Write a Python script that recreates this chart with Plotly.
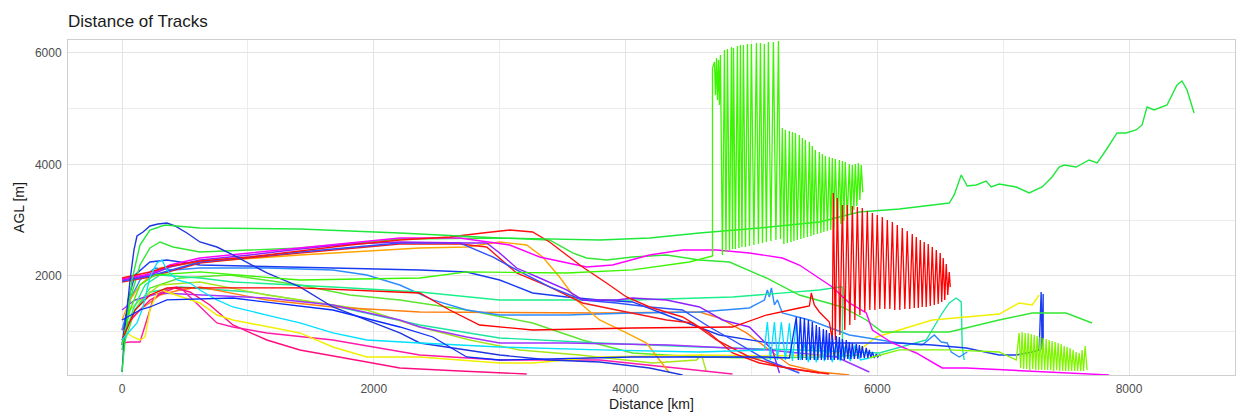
import plotly.graph_objects as go

FONT = "Liberation Sans, Arial, sans-serif"

# ---------------- data (distance km, AGL m) ----------------
green_long_km = [0, 32, 79, 143, 222, 341, 619, 1413, 2207, 3000, 3794, 4191, 4588, 5064, 5540, 5858, 6175, 6572, 6611, 6667, 6715, 6786, 6865, 6905, 6968, 7104, 7207, 7310, 7389, 7445, 7485, 7580, 7683, 7747, 7818, 7905, 7976, 8056, 8104, 8143, 8199, 8262, 8302, 8381, 8421, 8461, 8517]
green_long_m = [278, 1031, 1928, 2556, 2825, 2915, 2861, 2843, 2771, 2682, 2646, 2682, 2771, 2861, 2969, 3148, 3202, 3309, 3453, 3812, 3614, 3632, 3704, 3596, 3650, 3596, 3489, 3596, 3776, 3955, 3991, 3955, 4081, 4027, 4260, 4565, 4565, 4619, 4709, 5031, 4978, 5031, 5067, 5426, 5498, 5336, 4924]

blue_top_km = [0, 24, 64, 95, 119, 167, 222, 286, 357, 421, 516, 619, 754, 881, 1151, 1413, 1675, 1945, 2207, 2366, 2627, 3000, 3397, 3794, 4191, 4453]
blue_top_m = [278, 1031, 1928, 2466, 2717, 2789, 2897, 2933, 2951, 2897, 2771, 2610, 2520, 2377, 2054, 1803, 1444, 1211, 978, 798, 709, 583, 493, 457, 350, 224]

red_top_km = [0, 222, 381, 619, 1016, 1413, 1810, 2207, 2603, 2865, 3080, 3262, 3397, 3532, 3659, 3849, 4008, 4191, 4453, 4667, 4850, 5064, 5381, 5619]
red_top_m = [1964, 2072, 2179, 2269, 2341, 2448, 2556, 2646, 2700, 2771, 2825, 2789, 2610, 2377, 2161, 1874, 1623, 1444, 1265, 978, 619, 439, 314, 242]

magenta_km = [0, 222, 381, 619, 1016, 1413, 1810, 2207, 2683, 2897, 3080, 3318, 3532, 3691, 3897, 4191, 4453, 4723, 4984, 5246, 5381, 5540, 5643, 5778, 5913, 5961, 6120, 6310, 6516, 6707, 7231, 7762, 7842]
magenta_m = [1946, 2036, 2197, 2323, 2413, 2502, 2592, 2682, 2682, 2610, 2556, 2341, 2233, 2161, 2197, 2377, 2466, 2466, 2413, 2323, 2197, 1964, 1803, 1516, 1336, 1031, 798, 619, 350, 350, 296, 242, 224]

violet_km = [0, 222, 381, 619, 1016, 1413, 1810, 2207, 2738, 2897, 3000, 3135, 3318, 3532, 3659, 3929, 4056, 4326, 4588, 4770, 4984, 5167, 5223]
violet_m = [1928, 2018, 2161, 2287, 2377, 2484, 2574, 2610, 2592, 2592, 2413, 2143, 1964, 1749, 1570, 1570, 1605, 1570, 1444, 1211, 1085, 673, 260]

blue2_km = [0, 222, 619, 1413, 2207, 2683, 2945, 3135, 3397, 3659, 3929, 4191, 4453, 4667, 4850, 5119, 5381]
blue2_m = [1910, 2000, 2251, 2430, 2592, 2592, 2341, 2108, 1803, 1570, 1516, 1444, 1390, 1085, 852, 493, 260]

red2_km = [0, 222, 619, 1413, 2207, 2683, 2897, 3135, 3397, 3659, 3929, 4326, 4532, 4723, 4984, 5246, 5540]
red2_m = [1892, 1982, 2233, 2413, 2574, 2574, 2520, 2054, 1803, 1516, 1390, 1211, 1157, 852, 547, 368, 260]

orange_km = [0, 64, 143, 302, 619, 1413, 2366, 2738, 3000, 3215, 3342, 3476, 3611, 3794, 4008, 4167, 4270, 4350]
orange_m = [1211, 1570, 1839, 2143, 2251, 2377, 2502, 2520, 2610, 2556, 2341, 1982, 1570, 1211, 978, 798, 493, 260]

green2_km = [0, 64, 143, 222, 302, 405, 619, 1413, 2207, 3000, 3397, 3580, 3691, 3849, 4056, 4326, 4588, 4826, 5119, 5381, 5723, 5913, 6040, 6572, 6968, 7231, 7500, 7707]
green2_m = [673, 1570, 2197, 2502, 2610, 2520, 2430, 2502, 2664, 2682, 2646, 2413, 2323, 2287, 2341, 2377, 2287, 2251, 1964, 1659, 1444, 1211, 996, 996, 1211, 1336, 1336, 1157]

spring_km = [0, 87, 183, 302, 619, 881, 1675, 2366, 3000, 4056, 4850, 5540, 5699, 5723, 5723, 5738]
spring_m = [762, 1390, 1839, 2018, 1964, 1892, 1803, 1713, 1570, 1570, 1623, 1749, 1803, 1803, 852, 493]

azure_km = [0, 64, 143, 262, 405, 619, 1151, 1675, 1945, 2207, 2469, 2738, 3000, 3532, 4056, 4588, 4984, 5104, 5127, 5143, 5159, 5183, 5207, 5246, 5461, 5778, 6175, 6357, 6453, 6508, 6556, 6588, 6651, 6715]
azure_m = [1031, 1570, 1928, 2143, 2108, 2143, 2143, 2108, 2018, 1838, 1570, 1390, 1300, 1300, 1336, 1354, 1426, 1570, 1749, 1623, 1785, 1480, 1570, 1336, 1211, 942, 798, 762, 942, 816, 798, 637, 547, 637]

blue3_km = [0, 48, 103, 222, 357, 619, 1675, 2366, 2738, 3000, 3262, 3532, 3794, 4056, 4429, 4746, 5143, 5381, 5778, 6175, 6437, 6707, 6968, 7104, 7231, 7286, 7302, 7310, 7318, 7318]
blue3_m = [762, 1570, 2018, 2251, 2287, 2197, 2143, 2108, 2072, 1928, 1695, 1623, 1570, 1534, 1211, 942, 798, 798, 798, 798, 762, 709, 583, 583, 637, 673, 1713, 673, 1677, 852]

cyan_lead_km = [0, 119, 167, 222, 278, 317, 357, 437, 540, 619, 754, 881, 1151, 1413, 1675, 1945, 2366, 3000, 3794, 4588, 5103]
cyan_lead_m = [852, 1157, 1444, 1982, 2233, 2287, 2108, 1928, 1874, 1749, 1570, 1444, 1300, 1157, 978, 852, 798, 726, 673, 637, 673]
cyan_peak_km = [5127, 5183, 5238, 5302, 5357, 5421, 5484, 5548, 5611, 5675, 5747, 5826]
cyan_peak_m = [1175, 1175, 1175, 1157, 1175, 780, 762, 798, 762, 780, 744, 762]
cyan_trough_km = [5151, 5207, 5270, 5326, 5389, 5453, 5516, 5580, 5643, 5707, 5786, 5866]
cyan_trough_m = [493, 493, 493, 475, 493, 457, 457, 475, 457, 475, 475, 493]
cyan_tail_km = [5937]
cyan_tail_m = [529]

yellow_km = [0, 40, 87, 143, 183, 222, 278, 317, 357, 484, 619, 754, 881, 1413, 1675, 1945, 2366, 3000, 3262, 3794, 4588, 5064, 5540, 5858, 5993, 6175, 6437, 6707, 6968, 7127, 7231, 7286]
yellow_m = [942, 978, 906, 852, 906, 1390, 1695, 1749, 1713, 1623, 1516, 1300, 1211, 978, 726, 547, 547, 439, 439, 547, 583, 565, 583, 673, 906, 1031, 1211, 1265, 1318, 1516, 1480, 1659]

pink_km = [0, 64, 143, 198, 246, 302, 381, 437, 484, 540, 619, 754, 881, 1151, 1675, 2207, 2366, 3000, 3794, 4326, 4850]
pink_m = [798, 816, 816, 1211, 1570, 1695, 1785, 1803, 1749, 1623, 1444, 1157, 1085, 978, 852, 637, 583, 493, 493, 368, 242]

rose_km = [0, 103, 222, 341, 421, 540, 698, 881, 1151, 1413, 1945, 2207, 2683, 3215]
rose_m = [1031, 1300, 1570, 1713, 1785, 1713, 1480, 1121, 852, 673, 457, 350, 296, 242]

violet2_km = [0, 103, 302, 619, 1151, 1675, 2207, 2366, 2738, 3000, 3532, 4350, 5143, 5675, 5937]
violet2_m = [1390, 1570, 1695, 1659, 1605, 1480, 1211, 1085, 906, 798, 798, 762, 673, 547, 278]

blue4_lead_km = [0, 143, 222, 357, 881, 1675, 2207, 2469, 2738, 3000, 4056, 4723, 5119, 5302]
blue4_lead_m = [1211, 1390, 1444, 1570, 1605, 1390, 1085, 906, 547, 493, 547, 547, 547, 529]
blue4_peak_km = [5357, 5389, 5421, 5453, 5484, 5516, 5540, 5572, 5596, 5619, 5643, 5675, 5699, 5723, 5754, 5778, 5802, 5834, 5858, 5881, 5913, 5937, 5961, 5993, 6016]
blue4_peak_m = [1265, 1265, 1247, 1211, 1175, 1121, 1085, 1049, 1031, 978, 942, 924, 906, 870, 852, 816, 798, 780, 762, 744, 709, 673, 637, 601, 583]
blue4_trough_km = [5373, 5405, 5437, 5469, 5500, 5528, 5556, 5584, 5608, 5631, 5659, 5687, 5711, 5739, 5766, 5790, 5818, 5846, 5870, 5897, 5925, 5949, 5977, 6004, 6028]
blue4_trough_m = [493, 493, 493, 493, 493, 493, 493, 493, 493, 493, 493, 493, 493, 493, 511, 511, 511, 511, 529, 529, 529, 529, 529, 547, 565]

lime1_km = [0, 64, 143, 302, 619, 1151, 1945, 2366, 2762, 3159, 3635, 4215, 4564, 4604, 4643]
lime1_m = [1031, 1390, 1570, 1839, 1892, 1659, 1390, 1085, 852, 673, 583, 439, 493, 583, 278]

lime_lead_km = [5937, 6175, 6572, 6968, 7104]
lime_lead_m = [529, 673, 673, 637, 493]
lime_peak_km = [7127, 7151, 7175, 7199, 7223, 7247, 7270, 7294, 7318, 7342, 7366, 7389, 7413, 7437, 7461, 7485, 7508, 7532, 7556, 7580, 7604, 7627, 7651]
lime_peak_m = [978, 996, 978, 978, 960, 942, 924, 906, 888, 870, 852, 834, 816, 798, 780, 744, 726, 709, 673, 637, 619, 673, 744]
lime_trough_km = [7139, 7163, 7187, 7211, 7235, 7259, 7282, 7306, 7330, 7354, 7378, 7401, 7425, 7449, 7473, 7497, 7520, 7544, 7568, 7592, 7616, 7639, 7667]
lime_trough_m = [350, 332, 332, 314, 332, 314, 314, 314, 314, 314, 314, 296, 314, 296, 296, 296, 296, 296, 296, 296, 296, 296, 314]

teal_km = [0, 103, 222, 460, 1016, 1651, 2366, 3000, 3794, 4588, 5381, 6016, 6389, 6516, 6572, 6627, 6667, 6675, 6691]
teal_m = [852, 1390, 1713, 1803, 1713, 1480, 1121, 888, 798, 726, 673, 619, 852, 1336, 1516, 1605, 1534, 726, 493]

gz_lead_km = [0, 64, 143, 262, 619, 1413, 2366, 2738, 3532, 4056, 4508, 4691, 4691, 4707, 4715, 4723, 4731, 4739, 4746]
gz_lead_m = [762, 1390, 1839, 2018, 2072, 1928, 1964, 2072, 2054, 2108, 2251, 2359, 5731, 5839, 5247, 5910, 5157, 5875, 5067]
gz1_peak_km = [4754, 4786, 4810, 4842, 4858, 4889, 4913, 4937, 4969, 5000, 5040, 5072, 5103, 5135, 5175, 5215]
gz1_peak_m = [5965, 6054, 6072, 6108, 6090, 6126, 6144, 6144, 6162, 6162, 6180, 6180, 6162, 6198, 6198, 6216]
gz1_trough_km = [4770, 4798, 4826, 4850, 4873, 4901, 4925, 4953, 4985, 5020, 5056, 5088, 5119, 5155, 5195, 5231]
gz1_trough_m = [2377, 2430, 2466, 2484, 2484, 2502, 2520, 2520, 2538, 2556, 2574, 2592, 2610, 2628, 2646, 2664]
gz2_peak_km = [5246, 5270, 5302, 5326, 5350, 5381, 5405, 5429, 5461, 5484, 5508, 5540, 5564, 5588, 5619, 5643, 5667, 5699, 5723, 5746, 5778, 5802, 5826, 5850, 5873]
gz2_peak_m = [4655, 4619, 4601, 4583, 4565, 4529, 4475, 4440, 4404, 4332, 4260, 4224, 4188, 4152, 4134, 4117, 4099, 4081, 4063, 4045, 4009, 3991, 4009, 4027, 3991]
gz2_trough_km = [5258, 5286, 5314, 5338, 5365, 5393, 5417, 5445, 5473, 5496, 5524, 5552, 5576, 5604, 5631, 5655, 5683, 5711, 5735, 5762, 5790, 5814, 5838, 5862, 5885]
gz2_trough_m = [2574, 2592, 2610, 2628, 2646, 2664, 2682, 2700, 2717, 2735, 2753, 2771, 2789, 2807, 2825, 2861, 2897, 2933, 2987, 3040, 3112, 3184, 3256, 3363, 3500]

rz_lead_km = [0, 103, 222, 357, 1413, 2366, 2603, 2841, 3262, 4056, 4850, 5119, 5381, 5461, 5476, 5500, 5540, 5619, 5643]
rz_lead_m = [852, 1390, 1659, 1785, 1785, 1695, 1390, 1121, 1031, 1067, 1085, 1300, 1426, 1462, 1695, 1480, 1354, 1175, 852]
rz_peak_km = [5651, 5683, 5723, 5762, 5802, 5842, 5881, 5921, 5961, 6000, 6040, 6080, 6120, 6159, 6199, 6238, 6278, 6310, 6342, 6373, 6405, 6437, 6469, 6500, 6524, 6548, 6572]
rz_peak_m = [3489, 3399, 3274, 3274, 3256, 3238, 3220, 3166, 3130, 3094, 3058, 3005, 2969, 2915, 2861, 2807, 2753, 2700, 2646, 2610, 2574, 2520, 2466, 2413, 2323, 2215, 2072]
rz_trough_km = [5667, 5703, 5742, 5782, 5822, 5862, 5901, 5941, 5981, 6020, 6060, 6100, 6139, 6179, 6219, 6258, 6294, 6326, 6357, 6389, 6421, 6453, 6484, 6512, 6536, 6560, 6580]
rz_trough_m = [852, 942, 1031, 1121, 1211, 1300, 1354, 1390, 1390, 1408, 1408, 1408, 1390, 1390, 1408, 1408, 1426, 1426, 1444, 1444, 1462, 1480, 1498, 1534, 1570, 1660, 1800]

orange2_km = [0, 143, 302, 460, 619, 1151, 1675, 2366, 3794, 4588, 4746, 4961, 5143, 5302, 5540, 5778]
orange2_m = [1031, 1390, 1659, 1749, 1803, 1570, 1444, 1354, 1336, 1354, 1247, 978, 673, 404, 278, 224]

green4_km = [0, 103, 222, 460, 857, 1413, 1810, 2207, 2738, 3262, 3659, 4056, 4588, 5064, 5540, 5858]
green4_m = [673, 1390, 1785, 1964, 2018, 1839, 1659, 1570, 1390, 1157, 852, 619, 547, 529, 547, 583]

x_ticks = [0, 2000, 4000, 6000, 8000]
x_minor = [1000, 3000, 5000, 7000]
y_ticks = [2000, 4000, 6000]
y_minor = [1000, 3000, 5000]


def zigzag(lead_x, lead_y, parts, tail_x=(), tail_y=()):
    xs, ys = list(lead_x), list(lead_y)
    for px, py, tx, ty in parts:
        for a, b, c, d in zip(px, py, tx, ty):
            xs += [a, c]
            ys += [b, d]
    xs += list(tail_x)
    ys += list(tail_y)
    return xs, ys


tracks = [
    (green4_km, green4_m, "#5CE62E"),
    (teal_km, teal_m, "#1AE6A0"),
    (lime1_km, lime1_m, "#A8E61A"),
    (orange2_km, orange2_m, "#FF7F0F"),
    (violet2_km, violet2_m, "#A033FF"),
    (rose_km, rose_m, "#FF0D80"),
    (pink_km, pink_m, "#FF1AA8"),
    (yellow_km, yellow_m, "#F0F000"),
    (azure_km, azure_m, "#2E8BFF"),
    (spring_km, spring_m, "#1AF08C"),
    (blue3_km, blue3_m, "#1A3CF0"),
    (green2_km, green2_m, "#33E633"),
    (orange_km, orange_m, "#FFA500"),
    (red2_km, red2_m, "#F51A1A"),
    (blue2_km, blue2_m, "#3050FF"),
    (violet_km, violet_m, "#8F1FFF"),
    (magenta_km, magenta_m, "#FF00FF"),
    (red_top_km, red_top_m, "#FF1010"),
    (blue_top_km, blue_top_m, "#1F35E0"),
    (green_long_km, green_long_m, "#1FE83C"),
]

zig_tracks = [
    (zigzag(gz_lead_km, gz_lead_m, [(gz1_peak_km, gz1_peak_m, gz1_trough_km, gz1_trough_m),
                                     (gz2_peak_km, gz2_peak_m, gz2_trough_km, gz2_trough_m)]), "#3CF500"),
    (zigzag(rz_lead_km, rz_lead_m, [(rz_peak_km, rz_peak_m, rz_trough_km, rz_trough_m)]), "#FF0000"),
    (zigzag(cyan_lead_km, cyan_lead_m, [(cyan_peak_km, cyan_peak_m, cyan_trough_km, cyan_trough_m)],
            cyan_tail_km, cyan_tail_m), "#00E0FF"),
    (zigzag(blue4_lead_km, blue4_lead_m, [(blue4_peak_km, blue4_peak_m, blue4_trough_km, blue4_trough_m)]), "#0A2BFF"),
    (zigzag(lime_lead_km, lime_lead_m, [(lime_peak_km, lime_peak_m, lime_trough_km, lime_trough_m)]), "#80F500"),
]

fig = go.Figure()
for xs, ys, col in tracks:
    fig.add_trace(go.Scatter(x=xs, y=ys, mode="lines", line=dict(color=col, width=1.4),
                             hoverinfo="skip"))
for (xs, ys), col in zig_tracks:
    fig.add_trace(go.Scatter(x=xs, y=ys, mode="lines", line=dict(color=col, width=1.3),
                             hoverinfo="skip"))

fig.update_layout(
    width=1238, height=416,
    margin=dict(l=68, r=3, t=40, b=41, autoexpand=False),
    paper_bgcolor="white", plot_bgcolor="white",
    showlegend=False,
    font=dict(family=FONT, color="#1a1a1a"),
    title=dict(text="Distance of Tracks", x=0, xref="paper", xanchor="left",
               y=1 - 21 / 416, yref="container", yanchor="middle",
               font=dict(size=17, color="#1a1a1a", family=FONT)),
)
axis_common = dict(
    showgrid=True, gridcolor="#E3E3E3", gridwidth=1,
    zeroline=False, showline=True, linecolor="#CFCFCF", linewidth=1, mirror=True,
    ticks="outside", ticklen=3, tickcolor="rgba(0,0,0,0)",
    tickfont=dict(size=12, color="#4D4D4D", family=FONT),
    tickformat="d", automargin=False,
)
fig.update_xaxes(range=[-429, 8842], tickmode="array", tickvals=x_ticks,
                 minor=dict(tickvals=x_minor, showgrid=True, gridcolor="#ECECEC", gridwidth=1),
                 title=dict(text="Distance [km]", font=dict(size=14, color="#1a1a1a", family=FONT), standoff=3),
                 **axis_common)
fig.update_yaxes(range=[224, 6233], tickmode="array", tickvals=y_ticks,
                 minor=dict(tickvals=y_minor, showgrid=True, gridcolor="#ECECEC", gridwidth=1),
                 title=dict(text="AGL [m]", font=dict(size=14, color="#1a1a1a", family=FONT), standoff=6),
                 **axis_common)

fig.write_html("out.html", config={"displayModeBar": False},
               post_script="document.body.style.margin='0px';")
